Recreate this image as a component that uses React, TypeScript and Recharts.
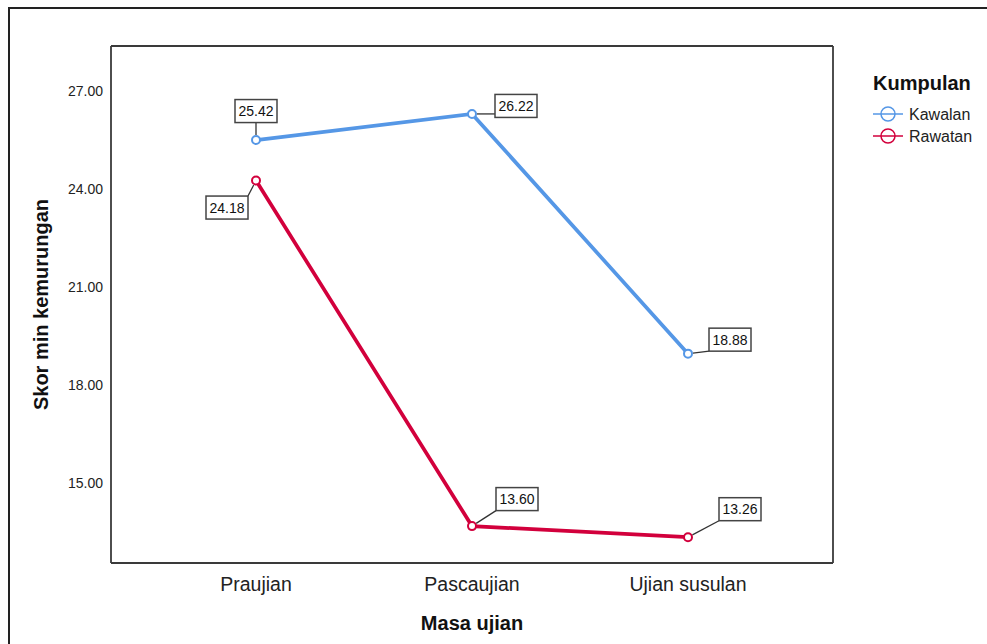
import React from 'react';
import { LineChart, Line, XAxis, YAxis, LabelList, Legend, CartesianGrid } from 'recharts';

const categories = ['Praujian', 'Pascaujian', 'Ujian susulan'];
const kawalan = [25.42, 26.22, 18.88];
const rawatan = [24.18, 13.6, 13.26];
const yTicks = [15, 18, 21, 24, 27];
const seriesNames = ['Kawalan', 'Rawatan'];
const legendTitle = 'Kumpulan';
const xTitle = 'Masa ujian';
const yTitle = 'Skor min kemurungan';

const data = categories.map((c, i) => ({ name: c, kawalan: kawalan[i], rawatan: rawatan[i] }));

// label box placements (style only): offset of box centre from the point
const KAWALAN_LABEL_OFFSETS = [[0, -29], [44, -8], [42, -14]];
const RAWATAN_LABEL_OFFSETS = [[-29, 27], [45, -27], [52, -28]];

const BLUE = '#5597E6';
const RED = '#D2003C';
const FONT = '"Liberation Sans", Arial, sans-serif';
const FRAME = '#3a3a3a';

const makeLabel = (offsets: number[][]) => (props: any) => {
  const { x, y, value, index } = props;
  if (x == null || y == null) return null;
  const [dx, dy] = offsets[index] || [0, -25];
  const w = 42;
  const h = 23;
  const cx = x + dx;
  const cy = y + dy;
  const left = cx - w / 2;
  const top = cy - h / 2;
  const ex = Math.max(left, Math.min(x, left + w));
  const ey = Math.max(top, Math.min(y, top + h));
  const len = Math.hypot(ex - x, ey - y) || 1;
  const sx = x + ((ex - x) / len) * 5;
  const sy = y + ((ey - y) / len) * 5;
  return (
    <g>
      <line x1={sx} y1={sy} x2={ex} y2={ey} stroke="#333" strokeWidth={1.3} />
      <rect x={left} y={top} width={w} height={h} fill="#fff" stroke="#444" strokeWidth={1.5} />
      <text x={cx} y={cy} dy="0.355em" textAnchor="middle" fontSize={14} fontFamily={FONT} fill="#111">
        {Number(value).toFixed(2)}
      </text>
    </g>
  );
};

const YTick = (props: any) => {
  const { x, y, payload } = props;
  return (
    <text x={x} y={y + 2.5} dy="0.355em" textAnchor="end" fontSize={14} fontFamily={FONT} fill="#222">
      {Number(payload.value).toFixed(2)}
    </text>
  );
};

const XTick = (props: any) => {
  const { x, y, payload } = props;
  return (
    <text x={x} y={y} dy="0.71em" textAnchor="middle" fontSize={19.5} fontFamily={FONT} fill="#222">
      {payload.value}
    </text>
  );
};

const renderLegend = () => {
  const colors = [BLUE, RED];
  return (
    <svg width={987} height={200} style={{ position: 'absolute', left: 0, top: 0, overflow: 'visible', pointerEvents: 'none' }}>
      <text x={873} y={89.5} fontSize={20} fontWeight="bold" fontFamily={FONT} fill="#111">
        {legendTitle}
      </text>
      {seriesNames.map((n, i) => {
        const cy = 114 + i * 22;
        return (
          <g key={n}>
            <line x1={873} x2={903} y1={cy} y2={cy} stroke={colors[i]} strokeWidth={1.5} />
            <circle cx={888} cy={cy} r={7} fill="none" stroke={colors[i]} strokeWidth={1.5} />
            <text x={909} y={cy + 6} fontSize={16} fontFamily={FONT} fill="#222">
              {n}
            </text>
          </g>
        );
      })}
    </svg>
  );
};

export default function App() {
  return (
    <div style={{ position: 'fixed', left: 0, top: 0, width: 987, height: 644, background: '#fff' }}>
      <div
        style={{
          position: 'absolute',
          left: 8,
          top: 7,
          width: 1000,
          height: 700,
          borderLeft: '2px solid #222',
          borderTop: '2px solid #222',
        }}
      />
      <div style={{ position: 'absolute', left: 0, top: 0 }}>
        <LineChart width={987} height={644} data={data} margin={{ top: 46, right: 154, bottom: 41, left: 0 }}>
          <CartesianGrid
            stroke={FRAME}
            strokeWidth={1.8}
            horizontalCoordinatesGenerator={(p: any) => [p.offset.top]}
            verticalCoordinatesGenerator={(p: any) => [p.offset.left + p.offset.width]}
          />
          <XAxis
            dataKey="name"
            padding={{ left: 145, right: 145 }}
            axisLine={{ stroke: FRAME, strokeWidth: 1.8 }}
            tickLine={false}
            tickSize={0}
            tickMargin={14}
            height={40}
            tick={<XTick />}
            label={(p: any) => {
              const vb = p.viewBox || { x: 111, width: 722, y: 563 };
              return (
                <text
                  x={vb.x + vb.width / 2}
                  y={630}
                  textAnchor="middle"
                  fontSize={20}
                  fontWeight="bold"
                  fontFamily={FONT}
                  fill="#111"
                >
                  {xTitle}
                </text>
              );
            }}
          />
          <YAxis
            domain={[12.47, 28.3]}
            ticks={yTicks}
            width={111}
            axisLine={{ stroke: FRAME, strokeWidth: 1.8 }}
            tickLine={false}
            tickSize={0}
            tickMargin={8}
            tick={<YTick />}
            allowDataOverflow
            label={(p: any) => {
              const vb = p.viewBox || { y: 46, height: 517 };
              const cx = 41;
              const cy = vb.y + vb.height / 2;
              return (
                <text
                  x={cx}
                  y={cy}
                  transform={`rotate(-90 ${cx} ${cy})`}
                  dy="0.355em"
                  textAnchor="middle"
                  fontSize={20}
                  fontWeight="bold"
                  fontFamily={FONT}
                  fill="#111"
                >
                  {yTitle}
                </text>
              );
            }}
          />
          <Legend
            content={renderLegend}
            wrapperStyle={{ position: 'absolute', left: 0, top: 0, width: 0, height: 0, overflow: 'visible' }}
          />
          <Line
            type="linear"
            dataKey="kawalan"
            name={seriesNames[0]}
            stroke={BLUE}
            strokeWidth={3.7}
            dot={{ r: 4, strokeWidth: 2, fill: '#fff', stroke: BLUE }}
            activeDot={false}
            isAnimationActive={false}
          >
            <LabelList dataKey="kawalan" content={makeLabel(KAWALAN_LABEL_OFFSETS)} />
          </Line>
          <Line
            type="linear"
            dataKey="rawatan"
            name={seriesNames[1]}
            stroke={RED}
            strokeWidth={3.7}
            dot={{ r: 4, strokeWidth: 2, fill: '#fff', stroke: RED }}
            activeDot={false}
            isAnimationActive={false}
          >
            <LabelList dataKey="rawatan" content={makeLabel(RAWATAN_LABEL_OFFSETS)} />
          </Line>
        </LineChart>
      </div>
    </div>
  );
}
